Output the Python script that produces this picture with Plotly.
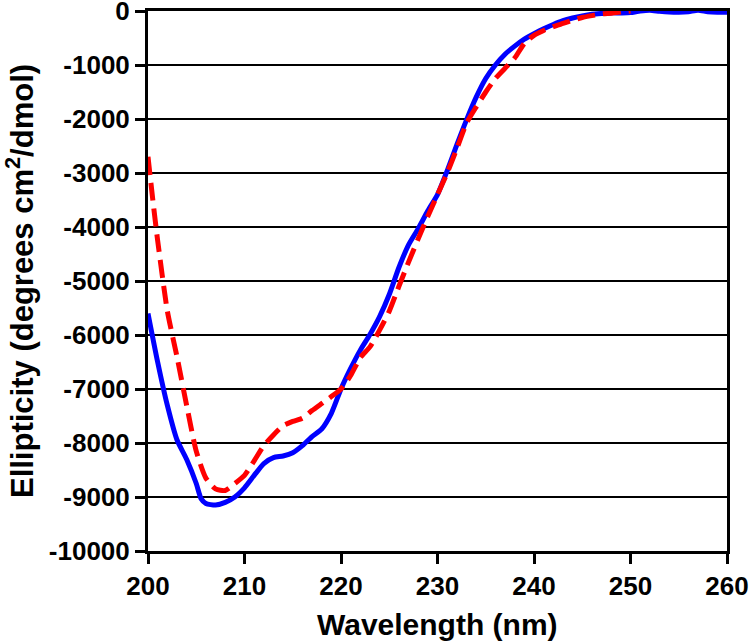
import plotly.graph_objects as go

# Blue (solid) CD spectrum
wl_blue = [200, 201, 202, 203, 204, 205, 205.5, 206, 207, 208, 209, 210, 211, 212, 213, 214, 215,
           216, 217, 218, 219, 220, 221, 222, 223, 224, 225, 226, 227, 228, 229, 230, 231, 232,
           233, 234, 235, 236, 237, 238, 239, 240, 241, 242, 243, 244, 245, 246, 247, 248, 249,
           250, 251, 252, 253, 254, 255, 256, 257, 258, 259, 260]
ell_blue = [-5600, -6500, -7300, -7940, -8300, -8750, -9030, -9120, -9150, -9100, -9000, -8830,
            -8600, -8380, -8270, -8240, -8180, -8050, -7880, -7740, -7450, -7000, -6620, -6280,
            -5990, -5660, -5250, -4750, -4330, -4030, -3700, -3400, -2960, -2480, -2020, -1600,
            -1250, -1000, -800, -650, -520, -420, -330, -250, -180, -130, -90, -60, -45, -35,
            -35, -30, 0, 15, -5, -20, -25, -15, 15, -15, -25, -25]

# Red (dashed) CD spectrum
wl_red = [200, 200.5, 201, 202, 203, 204, 205, 206, 207, 208, 209, 210, 211, 212, 213, 214, 215,
          216, 217, 218, 219, 220, 221, 222, 223, 224, 225, 226, 227, 228, 229, 230, 231, 232,
          233, 234, 235, 236, 237, 238, 239, 240, 241, 242, 243, 244, 245, 246, 247, 248, 249, 250]
ell_red = [-2700, -3500, -4250, -5550, -6400, -7300, -8150, -8650, -8850, -8880, -8750, -8600,
           -8330, -8050, -7850, -7680, -7600, -7540, -7400, -7270, -7140, -7000, -6750, -6420,
           -6220, -5910, -5560, -5100, -4650, -4220, -3800, -3400, -3000, -2550, -2080, -1780,
           -1500, -1250, -1060, -870, -600, -450, -360, -290, -230, -170, -120, -85, -55, -40,
           -20, 0]

x_ticks = [200, 210, 220, 230, 240, 250, 260]
y_ticks = [0, -1000, -2000, -3000, -4000, -5000, -6000, -7000, -8000, -9000, -10000]
y_tick_labels = ["0", "-1000", "-2000", "-3000", "-4000", "-5000", "-6000", "-7000",
                 "-8000", "-9000", "-10000"]

x_title = "Wavelength (nm)"
y_title = "Ellipticity (degrees cm<sup>2</sup>/dmol)"

FONT = "Liberation Sans, Arial, Helvetica, sans-serif"

fig = go.Figure()
fig.add_trace(go.Scatter(x=wl_blue, y=ell_blue, mode="lines",
                         line=dict(color="#0000ff", width=5, shape="spline", smoothing=0.6),
                         showlegend=False, hoverinfo="skip"))
fig.add_trace(go.Scatter(x=wl_red, y=ell_red, mode="lines",
                         line=dict(color="#ff0000", width=5, dash="18px,8px", shape="spline",
                                   smoothing=0.6),
                         showlegend=False, hoverinfo="skip"))

common_axis = dict(
    zeroline=False, showline=True, linecolor="black", linewidth=3, mirror=True,
    ticks="outside", ticklen=10, tickwidth=3, tickcolor="black",
    tickfont=dict(size=26, family=FONT, weight="bold", color="black"),
    automargin=False, ticklabeloverflow="allow",
)

fig.update_layout(
    width=750, height=641,
    margin=dict(l=148, r=23, t=11, b=90),
    paper_bgcolor="white", plot_bgcolor="white",
    font=dict(family=FONT, color="black", size=26, weight="bold"),
    xaxis=dict(range=[200, 260], tickvals=x_ticks, ticktext=[str(v) for v in x_ticks],
               showgrid=False, **common_axis),
    yaxis=dict(range=[-10000, 0], tickvals=y_ticks, ticktext=y_tick_labels,
               showgrid=True, gridcolor="black", gridwidth=2, **common_axis),
    annotations=[
        dict(text=x_title, xref="paper", yref="paper", x=0.5, y=-0.136,
             xanchor="center", yanchor="middle", showarrow=False,
             font=dict(size=30, family=FONT, weight="bold", color="black")),
        dict(text=y_title, xref="paper", yref="paper", x=-0.221, y=0.5, textangle=-90,
             xanchor="center", yanchor="middle", showarrow=False,
             font=dict(size=31, family=FONT, weight="bold", color="black")),
    ],
)

fig.write_html("out.html", config={"displayModeBar": False},
               post_script="document.body.style.margin='0';document.body.style.overflow='hidden';")
